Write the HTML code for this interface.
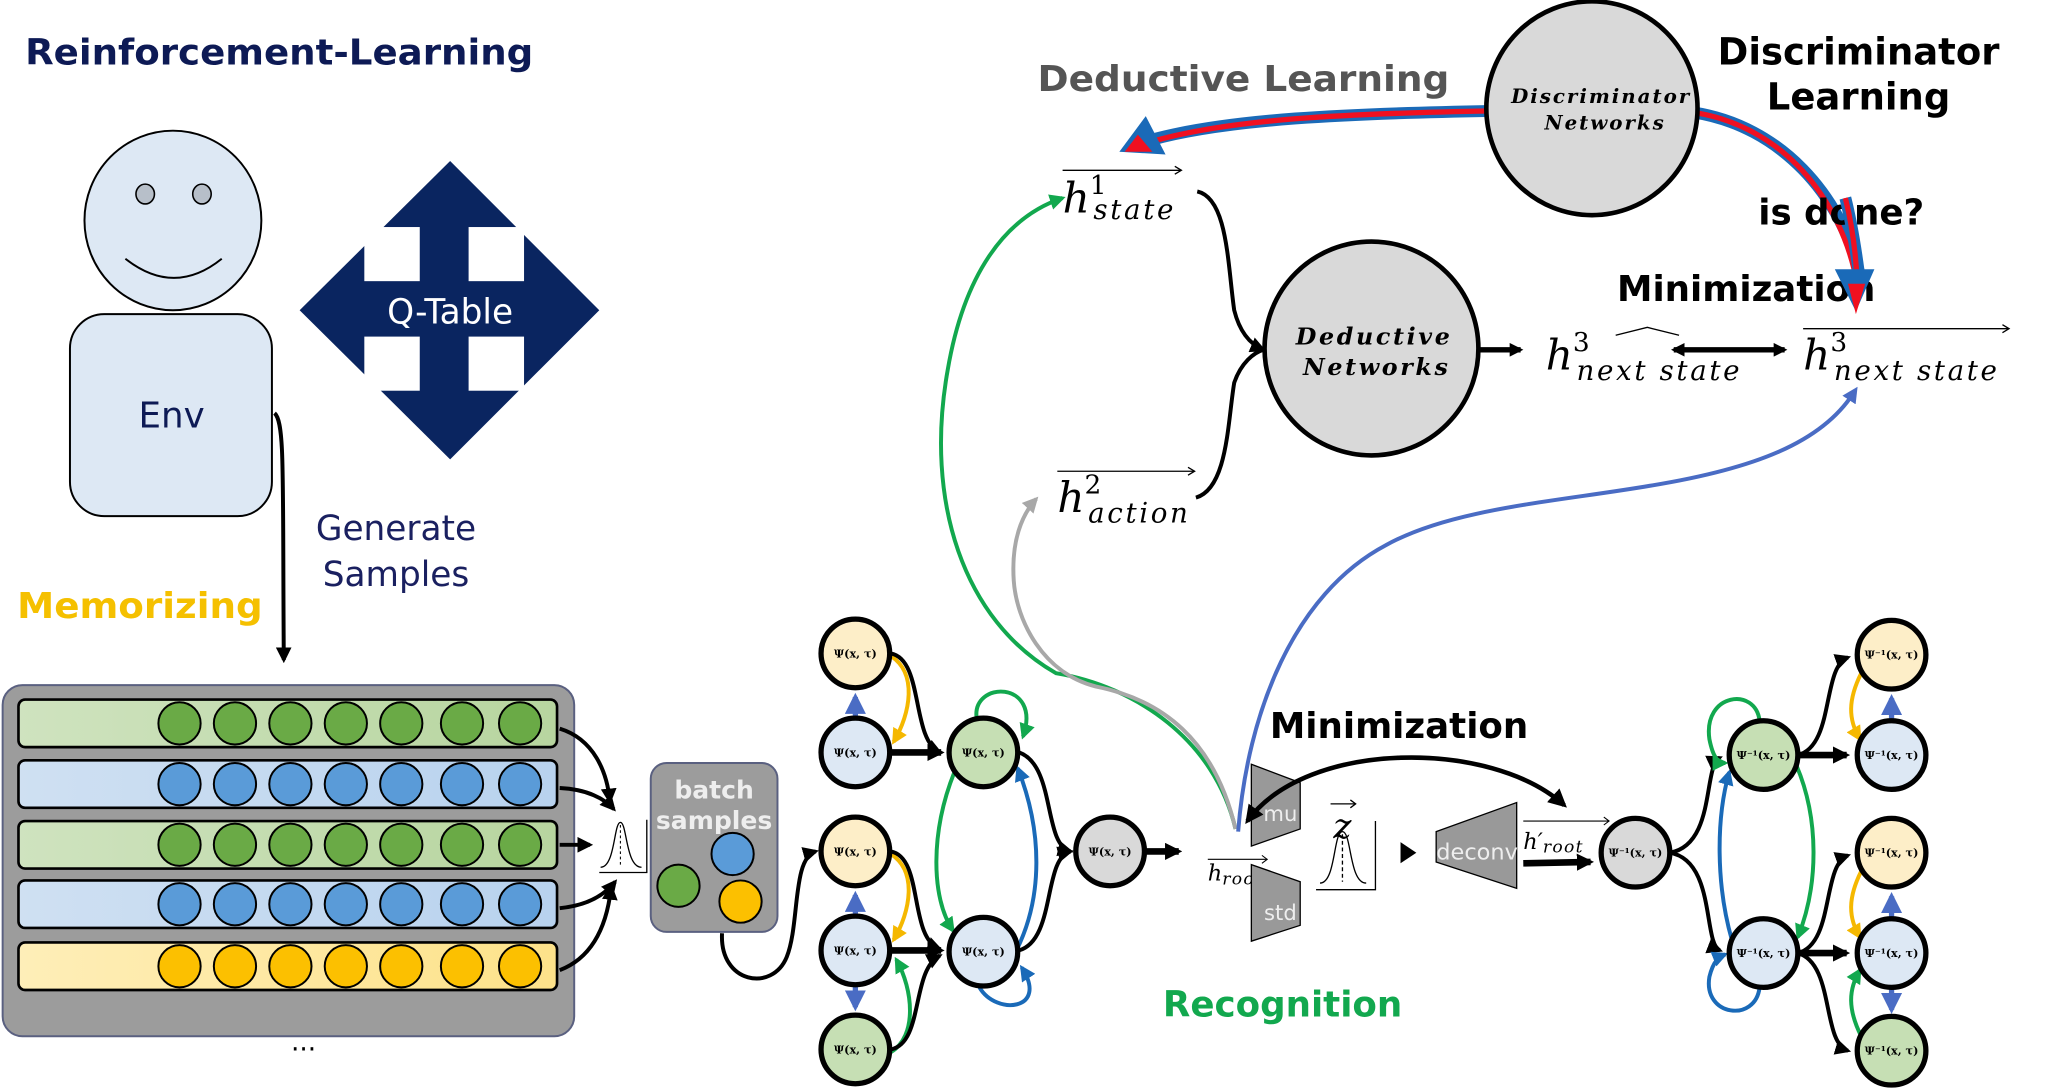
<!DOCTYPE html>
<html><head><meta charset="utf-8"><style>
html,body{margin:0;padding:0;background:#fff;}
svg{display:block;}
.b{font-family:"DejaVu Sans","Liberation Sans",sans-serif;font-weight:bold;}
.s{font-family:"DejaVu Sans","Liberation Sans",sans-serif;}
.m{font-family:"DejaVu Serif","Liberation Serif",serif;font-style:italic;}
.nt{font-family:"DejaVu Serif","Liberation Serif",serif;font-weight:bold;font-size:8.5px;}
</style></head><body>
<svg width="2046" height="1089" viewBox="0 0 1550 825" preserveAspectRatio="none" xmlns="http://www.w3.org/2000/svg">
<defs>
<marker id="ak" viewBox="0 0 10 10" refX="8" refY="5" markerWidth="4" markerHeight="4" orient="auto-start-reverse" markerUnits="strokeWidth"><path d="M0,0L10,5L0,10z" fill="#000"/></marker>
<marker id="akb" viewBox="0 0 10 10" refX="8" refY="5" markerWidth="2.6" markerHeight="2.6" orient="auto-start-reverse" markerUnits="strokeWidth"><path d="M0,0L10,5L0,10z" fill="#000"/></marker>
<marker id="ab" viewBox="0 0 10 10" refX="8" refY="5" markerWidth="4" markerHeight="4" orient="auto" markerUnits="strokeWidth"><path d="M0,0L10,5L0,10z" fill="#4a6cc4"/></marker>
<marker id="ad" viewBox="0 0 10 10" refX="8" refY="5" markerWidth="4" markerHeight="4" orient="auto" markerUnits="strokeWidth"><path d="M0,0L10,5L0,10z" fill="#1a6ab8"/></marker>
<marker id="ag" viewBox="0 0 10 10" refX="8" refY="5" markerWidth="4" markerHeight="4" orient="auto" markerUnits="strokeWidth"><path d="M0,0L10,5L0,10z" fill="#12a84e"/></marker>
<marker id="ay" viewBox="0 0 10 10" refX="8" refY="5" markerWidth="4" markerHeight="4" orient="auto" markerUnits="strokeWidth"><path d="M0,0L10,5L0,10z" fill="#f5b800"/></marker>
<marker id="agr" viewBox="0 0 10 10" refX="8" refY="5" markerWidth="4" markerHeight="4" orient="auto" markerUnits="strokeWidth"><path d="M0,0L10,5L0,10z" fill="#a8a8a8"/></marker>
<marker id="ap" viewBox="0 0 10 10" refX="5" refY="5" markerWidth="4" markerHeight="4" orient="auto" markerUnits="strokeWidth"><path d="M0,0L10,5L0,10z" fill="#4a6cc4"/></marker>
</defs>

<text x="19" y="49" class="b" font-size="27" fill="#0d1a55" textLength="385" lengthAdjust="spacingAndGlyphs">Reinforcement-Learning</text>

<ellipse cx="131" cy="167" rx="67" ry="68" fill="#dde8f4" stroke="#000" stroke-width="1.5"/>
<ellipse cx="110" cy="147" rx="7" ry="7.5" fill="#b7bfc9" stroke="#000" stroke-width="1.2"/>
<ellipse cx="153" cy="147" rx="7" ry="7.5" fill="#b7bfc9" stroke="#000" stroke-width="1.2"/>
<path d="M95,196 Q132,225 168,196" fill="none" stroke="#000" stroke-width="1.5"/>
<rect x="53" y="238" width="153" height="153" rx="26" fill="#dde8f4" stroke="#000" stroke-width="1.5"/>
<text x="130" y="324" class="s" font-size="27" fill="#0d1a55" text-anchor="middle">Env</text>

<polygon points="341,122 454,235 341,348 227,235" fill="#0a2560"/>
<rect x="276" y="172" width="42" height="41" fill="#fff"/>
<rect x="355" y="172" width="42" height="41" fill="#fff"/>
<rect x="276" y="255" width="42" height="41" fill="#fff"/>
<rect x="355" y="255" width="42" height="41" fill="#fff"/>
<text x="341" y="245" class="s" font-size="26" fill="#fff" text-anchor="middle">Q-Table</text>

<path d="M208,313 C216,320 214,360 215,500" fill="none" stroke="#000" stroke-width="3" marker-end="url(#ak)"/>
<text x="300" y="409" class="s" font-size="26" fill="#1a2060" text-anchor="middle">Generate</text>
<text x="300" y="444" class="s" font-size="26" fill="#1a2060" text-anchor="middle">Samples</text>
<text x="13" y="468" class="b" font-size="27" fill="#f5c000" textLength="186" lengthAdjust="spacingAndGlyphs">Memorizing</text>

<rect x="2" y="519" width="433" height="266" rx="15" fill="#9c9c9c" stroke="#5a6080" stroke-width="1.5"/>
<linearGradient id="gg" x1="0" x2="1"><stop offset="0" stop-color="#cfe3bf"/><stop offset="1" stop-color="#b7d59f"/></linearGradient>
<linearGradient id="gb" x1="0" x2="1"><stop offset="0" stop-color="#cfe0f2"/><stop offset="1" stop-color="#b8d2ee"/></linearGradient>
<linearGradient id="gy" x1="0" x2="1"><stop offset="0" stop-color="#feeeb8"/><stop offset="1" stop-color="#fde28a"/></linearGradient>
<g stroke="#000" stroke-width="2">
<rect x="14" y="530" width="408" height="36" rx="5" fill="url(#gg)"/>
<rect x="14" y="576" width="408" height="36" rx="5" fill="url(#gb)"/>
<rect x="14" y="622" width="408" height="36" rx="5" fill="url(#gg)"/>
<rect x="14" y="667" width="408" height="36" rx="5" fill="url(#gb)"/>
<rect x="14" y="714" width="408" height="36" rx="5" fill="url(#gy)"/>
</g>
<g stroke="#000" stroke-width="1.5">
<g fill="#6aaa46"><circle cx="136" cy="548" r="16"/><circle cx="178" cy="548" r="16"/><circle cx="220" cy="548" r="16"/><circle cx="262" cy="548" r="16"/><circle cx="304" cy="548" r="16"/><circle cx="350" cy="548" r="16"/><circle cx="394" cy="548" r="16"/></g>
<g fill="#5a9bd8"><circle cx="136" cy="594" r="16"/><circle cx="178" cy="594" r="16"/><circle cx="220" cy="594" r="16"/><circle cx="262" cy="594" r="16"/><circle cx="304" cy="594" r="16"/><circle cx="350" cy="594" r="16"/><circle cx="394" cy="594" r="16"/></g>
<g fill="#6aaa46"><circle cx="136" cy="640" r="16"/><circle cx="178" cy="640" r="16"/><circle cx="220" cy="640" r="16"/><circle cx="262" cy="640" r="16"/><circle cx="304" cy="640" r="16"/><circle cx="350" cy="640" r="16"/><circle cx="394" cy="640" r="16"/></g>
<g fill="#5a9bd8"><circle cx="136" cy="685" r="16"/><circle cx="178" cy="685" r="16"/><circle cx="220" cy="685" r="16"/><circle cx="262" cy="685" r="16"/><circle cx="304" cy="685" r="16"/><circle cx="350" cy="685" r="16"/><circle cx="394" cy="685" r="16"/></g>
<g fill="#fcc000"><circle cx="136" cy="732" r="16"/><circle cx="178" cy="732" r="16"/><circle cx="220" cy="732" r="16"/><circle cx="262" cy="732" r="16"/><circle cx="304" cy="732" r="16"/><circle cx="350" cy="732" r="16"/><circle cx="394" cy="732" r="16"/></g>
</g>
<text x="230" y="796" class="s" font-size="20" fill="#000" text-anchor="middle">...</text>
<g fill="none" stroke="#000" stroke-width="3">
<path d="M424,552 C450,560 460,585 462,607" marker-end="url(#ak)"/>
<path d="M424,597 C445,598 458,605 465,613" marker-end="url(#ak)"/>
<path d="M424,640 L447,640" marker-end="url(#ak)"/>
<path d="M424,688 C445,686 458,678 466,668" marker-end="url(#ak)"/>
<path d="M424,735 C450,725 460,700 463,672" marker-end="url(#ak)"/>
</g>
<path d="M455,657 C466,657 465,623 470,623 C475,623 474,657 486,657" fill="none" stroke="#000" stroke-width="1"/>
<path d="M470,625 V657" stroke="#000" stroke-width="0.8" stroke-dasharray="2,2"/>
<path d="M454,661 H490 V621" fill="none" stroke="#000" stroke-width="1"/>

<rect x="493" y="578" width="96" height="128" rx="12" fill="#9c9c9c" stroke="#5a6080" stroke-width="1.5"/>
<text x="541" y="605" class="b" font-size="19" fill="#eee" text-anchor="middle">batch</text>
<text x="541" y="628" class="b" font-size="19" fill="#eee" text-anchor="middle">samples</text>
<circle cx="555" cy="647" r="16" fill="#5a9bd8" stroke="#000" stroke-width="1.5"/>
<circle cx="514" cy="671" r="16" fill="#6aaa46" stroke="#000" stroke-width="1.5"/>
<circle cx="561" cy="683" r="16" fill="#fcc000" stroke="#000" stroke-width="1.5"/>
<path d="M547,707 C545,745 585,752 596,725 C606,700 600,650 618,645" fill="none" stroke="#000" stroke-width="3" marker-end="url(#ak)"/>

<g fill="none">
<path d="M648,545 V528" stroke="#4a6cc4" stroke-width="4" marker-end="url(#ab)"/>
<path d="M648,695 V678" stroke="#4a6cc4" stroke-width="4" marker-end="url(#ab)"/>
<path d="M648,746 V763" stroke="#4a6cc4" stroke-width="4" marker-end="url(#ab)"/>
<path d="M675,497 C695,510 690,540 677,562" stroke="#f5b800" stroke-width="3" marker-end="url(#ay)"/>
<path d="M675,647 C695,660 690,690 677,712" stroke="#f5b800" stroke-width="3" marker-end="url(#ay)"/>
<path d="M675,797 C695,785 692,750 679,727" stroke="#12a84e" stroke-width="3" marker-end="url(#ag)"/>
<path d="M675,495 C700,500 690,560 712,570" stroke="#000" stroke-width="3" marker-end="url(#ak)"/>
<path d="M674,570 H713" stroke="#000" stroke-width="5" marker-end="url(#akb)"/>
<path d="M675,645 C700,650 688,710 712,719" stroke="#000" stroke-width="3" marker-end="url(#ak)"/>
<path d="M674,720 H713" stroke="#000" stroke-width="5" marker-end="url(#akb)"/>
<path d="M675,795 C700,790 690,735 712,724" stroke="#000" stroke-width="3" marker-end="url(#ak)"/>
<path d="M740,545 C735,515 790,515 775,558" stroke="#12a84e" stroke-width="3" marker-end="url(#ag)"/>
<path d="M723,585 C705,630 705,680 722,705" stroke="#12a84e" stroke-width="3" marker-end="url(#ag)"/>
<path d="M770,720 C790,680 790,630 771,582" stroke="#1a6ab8" stroke-width="3" marker-end="url(#ad)"/>
<path d="M742,748 C755,770 795,765 774,733" stroke="#1a6ab8" stroke-width="3" marker-end="url(#ad)"/>
<path d="M772,570 C800,580 790,640 811,645" stroke="#000" stroke-width="3" marker-end="url(#ak)"/>
<path d="M772,720 C800,712 790,650 811,645" stroke="#000" stroke-width="3" marker-end="url(#ak)"/>
<path d="M868,645 H893" stroke="#000" stroke-width="5" marker-end="url(#akb)"/>
</g>
<g stroke="#000" stroke-width="4">
<circle cx="648" cy="495" r="26" fill="#fdeec8"/>
<circle cx="648" cy="570" r="26" fill="#dde8f4"/>
<circle cx="745" cy="570" r="26" fill="#c6dfb4"/>
<circle cx="648" cy="645" r="26" fill="#fdeec8"/>
<circle cx="648" cy="720" r="26" fill="#dde8f4"/>
<circle cx="648" cy="795" r="26" fill="#c6dfb4"/>
<circle cx="745" cy="721" r="26" fill="#dde8f4"/>
<circle cx="841" cy="645" r="26" fill="#d9d9d9"/>
</g>
<g class="nt" text-anchor="middle">
<text x="648" y="498">Ψ(x, τ)</text><text x="648" y="573">Ψ(x, τ)</text><text x="745" y="573">Ψ(x, τ)</text>
<text x="648" y="648">Ψ(x, τ)</text><text x="648" y="723">Ψ(x, τ)</text><text x="648" y="798">Ψ(x, τ)</text>
<text x="745" y="724">Ψ(x, τ)</text><text x="841" y="648">Ψ(x, τ)</text>
</g>

<path d="M936,628 C920,560 860,520 800,510 C730,470 700,380 718,280 C730,210 760,165 805,150" fill="none" stroke="#12a84e" stroke-width="3" marker-end="url(#ag)"/>
<path d="M936,628 C920,560 880,530 830,520 C790,510 770,470 768,440 C766,410 774,390 785,378" fill="none" stroke="#a8a8a8" stroke-width="3" marker-end="url(#agr)"/>
<path d="M938,630 C945,540 980,450 1050,413 C1100,385 1180,380 1250,368 C1330,355 1380,335 1404,298" fill="none" stroke="#4a6cc4" stroke-width="3" marker-end="url(#ap)"/>

<text x="915" y="667" class="m" font-size="17">h<tspan font-size="13" dy="3" letter-spacing="1">root</tspan></text>
<path d="M915,651 H960" stroke="#000" stroke-width="0.8"/><path d="M956,648 L960,651 L956,654" fill="none" stroke="#000" stroke-width="0.8"/>
<polygon points="948,579 985,593 985,628 948,641" fill="#999" stroke="#000" stroke-width="1"/>
<text x="970" y="622" class="s" font-size="16" fill="#eee" text-anchor="middle">mu</text>
<polygon points="948,655 985,668 985,701 948,713" fill="#999" stroke="#000" stroke-width="1"/>
<text x="970" y="697" class="s" font-size="16" fill="#eee" text-anchor="middle">std</text>
<text x="1017" y="635" class="m" font-size="26" text-anchor="middle">z</text>
<path d="M1008,609 H1027" stroke="#000" stroke-width="1"/><path d="M1023,606 L1027,609 L1023,612" fill="none" stroke="#000" stroke-width="1"/>
<path d="M1000,669 C1012,669 1010,630 1017,630 C1024,630 1022,669 1035,669" fill="none" stroke="#000" stroke-width="1"/>
<path d="M1017,632 V668" stroke="#000" stroke-width="1" stroke-dasharray="3,2"/>
<path d="M997,674 H1042 V622" fill="none" stroke="#000" stroke-width="1"/>
<polygon points="1061,638 1073,646 1061,654" fill="#000"/>
<polygon points="1088,630 1149,608 1149,673 1088,653" fill="#999" stroke="#000" stroke-width="1"/>
<text x="1119" y="651" class="s" font-size="17" fill="#eee" text-anchor="middle">deconv</text>
<text x="1154" y="643" class="m" font-size="17">h′<tspan font-size="13" dy="3" letter-spacing="1">root</tspan></text>
<path d="M1154,622 H1219" stroke="#000" stroke-width="0.8"/><path d="M1215,619 L1219,622 L1215,625" fill="none" stroke="#000" stroke-width="0.8"/>
<path d="M1154,654 L1205,653" stroke="#000" stroke-width="5" marker-end="url(#akb)"/>
<path d="M945,622 C990,560 1130,560 1185,610" fill="none" stroke="#000" stroke-width="3.5" marker-start="url(#ak)" marker-end="url(#ak)"/>
<text x="962" y="559" class="b" font-size="27" fill="#000">Minimization</text>
<text x="881" y="770" class="b" font-size="27" fill="#12a84e">Recognition</text>

<g fill="none">
<path d="M1265,646 C1300,640 1290,580 1303,574" stroke="#000" stroke-width="3" marker-end="url(#ak)"/>
<path d="M1265,646 C1300,652 1290,715 1303,720" stroke="#000" stroke-width="3" marker-end="url(#ak)"/>
<path d="M1333,546 C1330,520 1290,525 1295,560 C1298,575 1302,578 1307,578" stroke="#12a84e" stroke-width="3" marker-end="url(#ag)"/>
<path d="M1333,748 C1330,775 1290,770 1295,740 C1298,728 1302,725 1307,723" stroke="#1a6ab8" stroke-width="3" marker-end="url(#ad)"/>
<path d="M1312,712 C1300,670 1300,620 1310,585" stroke="#1a6ab8" stroke-width="3" marker-end="url(#ad)"/>
<path d="M1361,580 C1378,620 1378,670 1362,710" stroke="#12a84e" stroke-width="3" marker-end="url(#ag)"/>
<path d="M1362,572 C1390,565 1380,505 1400,498" stroke="#000" stroke-width="3" marker-end="url(#ak)"/>
<path d="M1362,572 H1399" stroke="#000" stroke-width="5" marker-end="url(#akb)"/>
<path d="M1362,722 C1390,715 1380,655 1400,648" stroke="#000" stroke-width="3" marker-end="url(#ak)"/>
<path d="M1362,722 H1399" stroke="#000" stroke-width="5" marker-end="url(#akb)"/>
<path d="M1362,722 C1390,730 1380,790 1400,796" stroke="#000" stroke-width="3" marker-end="url(#ak)"/>
<path d="M1433,546 V529" stroke="#4a6cc4" stroke-width="4" marker-end="url(#ab)"/>
<path d="M1433,696 V679" stroke="#4a6cc4" stroke-width="4" marker-end="url(#ab)"/>
<path d="M1433,748 V765" stroke="#4a6cc4" stroke-width="4" marker-end="url(#ab)"/>
<path d="M1410,510 C1400,530 1400,545 1409,560" stroke="#f5b800" stroke-width="3" marker-end="url(#ay)"/>
<path d="M1410,660 C1400,680 1400,695 1409,710" stroke="#f5b800" stroke-width="3" marker-end="url(#ay)"/>
<path d="M1410,785 C1400,765 1400,750 1409,735" stroke="#12a84e" stroke-width="3" marker-end="url(#ag)"/>
</g>
<g stroke="#000" stroke-width="4">
<circle cx="1239" cy="646" r="26" fill="#d9d9d9"/>
<circle cx="1336" cy="572" r="26" fill="#c6dfb4"/>
<circle cx="1336" cy="722" r="26" fill="#dde8f4"/>
<circle cx="1433" cy="496" r="26" fill="#fdeec8"/>
<circle cx="1433" cy="572" r="26" fill="#dde8f4"/>
<circle cx="1433" cy="646" r="26" fill="#fdeec8"/>
<circle cx="1433" cy="722" r="26" fill="#dde8f4"/>
<circle cx="1433" cy="796" r="26" fill="#c6dfb4"/>
</g>
<g class="nt" text-anchor="middle" font-size="8">
<text x="1239" y="649">Ψ⁻¹(x, τ)</text><text x="1336" y="575">Ψ⁻¹(x, τ)</text><text x="1336" y="725">Ψ⁻¹(x, τ)</text>
<text x="1433" y="499">Ψ⁻¹(x, τ)</text><text x="1433" y="575">Ψ⁻¹(x, τ)</text><text x="1433" y="649">Ψ⁻¹(x, τ)</text>
<text x="1433" y="725">Ψ⁻¹(x, τ)</text><text x="1433" y="799">Ψ⁻¹(x, τ)</text>
</g>

<text x="786" y="69" class="b" font-size="27" fill="#555" textLength="312" lengthAdjust="spacingAndGlyphs">Deductive Learning</text>
<text x="1408" y="49" class="b" font-size="28" fill="#000" text-anchor="middle">Discriminator</text>
<text x="1408" y="83" class="b" font-size="28" fill="#000" text-anchor="middle">Learning</text>

<path d="M1130,84 C1020,86 930,90 872,106" fill="none" stroke="#1a6ab8" stroke-width="9"/>
<path d="M1130,84 C1020,86 930,90 870,108" fill="none" stroke="#f01020" stroke-width="4"/>
<polygon points="868,88 883,117 848,115" fill="#1a6ab8"/>
<polygon points="862,102 873,115 852,115" fill="#f01020"/>
<path d="M1282,85 C1350,95 1395,150 1408,205" fill="none" stroke="#1a6ab8" stroke-width="9"/>
<path d="M1282,85 C1350,95 1395,150 1407,215" fill="none" stroke="#f01020" stroke-width="4"/>

<ellipse cx="1206" cy="82" rx="80" ry="81" fill="#d9d9d9" stroke="#000" stroke-width="3.5"/>
<text x="1213" y="78" class="m" font-weight="bold" font-size="15" text-anchor="middle" letter-spacing="1.5">Discriminator</text>
<text x="1216" y="98" class="m" font-weight="bold" font-size="15" text-anchor="middle" letter-spacing="1.5">Networks</text>

<text x="1332" y="170" class="b" font-size="27" fill="#000">is done?</text>
<text x="1225" y="228" class="b" font-size="27" fill="#000">Minimization</text>
<path d="M1398,150 C1403,170 1406,190 1408,205" fill="none" stroke="#1a6ab8" stroke-width="9"/>
<path d="M1398,150 C1403,170 1406,190 1407,215" fill="none" stroke="#f01020" stroke-width="4"/>
<polygon points="1390,204 1420,204 1406,236" fill="#1a6ab8"/>
<polygon points="1400,215 1413,215 1406,238" fill="#f01020"/>

<path d="M805,129 H895" stroke="#000" stroke-width="1"/><path d="M890,126 L895,129 L890,132" fill="none" stroke="#000" stroke-width="1"/>
<text x="805" y="161" class="m" font-size="32">h<tspan font-size="20" dy="-14" font-style="normal">1</tspan><tspan font-size="21" dx="-10" dy="19" letter-spacing="2">state</tspan></text>
<path d="M801,357 H905" stroke="#000" stroke-width="1"/><path d="M900,354 L905,357 L900,360" fill="none" stroke="#000" stroke-width="1"/>
<text x="801" y="388" class="m" font-size="32">h<tspan font-size="20" dy="-14" font-style="normal">2</tspan><tspan font-size="21" dx="-10" dy="22" letter-spacing="2">action</tspan></text>
<path d="M907,145 C930,150 930,200 935,235 C940,255 950,262 957,265" fill="none" stroke="#000" stroke-width="3" marker-end="url(#ak)"/>
<path d="M906,377 C930,370 930,320 935,290 C940,275 950,267 957,265" fill="none" stroke="#000" stroke-width="3"/>
<circle cx="1039" cy="264" r="81" fill="#d9d9d9" stroke="#000" stroke-width="3.5"/>
<text x="1041" y="261" class="m" font-weight="bold" font-size="18" text-anchor="middle" letter-spacing="2">Deductive</text>
<text x="1043" y="284" class="m" font-weight="bold" font-size="18" text-anchor="middle" letter-spacing="2">Networks</text>
<path d="M1121,265 H1152" stroke="#000" stroke-width="4" marker-end="url(#akb)"/>
<text x="1171" y="280" class="m" font-size="32">h<tspan font-size="20" dy="-14" font-style="normal">3</tspan><tspan font-size="21" dx="-10" dy="22" letter-spacing="2">next state</tspan></text>
<path d="M1224,254 L1248,248 L1272,254" fill="none" stroke="#000" stroke-width="1"/>
<path d="M1268,265 H1352" stroke="#000" stroke-width="4" marker-start="url(#akb)" marker-end="url(#akb)"/>
<path d="M1366,249 H1522" stroke="#000" stroke-width="1"/><path d="M1517,246 L1522,249 L1517,252" fill="none" stroke="#000" stroke-width="1"/>
<text x="1366" y="280" class="m" font-size="32">h<tspan font-size="20" dy="-14" font-style="normal">3</tspan><tspan font-size="21" dx="-10" dy="22" letter-spacing="2">next state</tspan></text>
</svg>
</body></html>
